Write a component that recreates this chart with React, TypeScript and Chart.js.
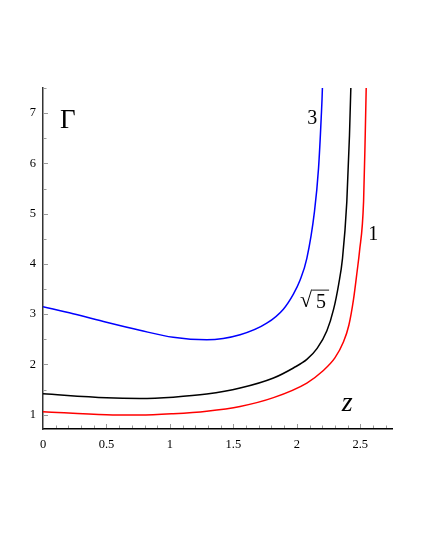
import React, { useEffect, useRef } from "react";
import { Chart, registerables } from "chart.js";

Chart.register(...registerables);

// curve "1" (red)
const zRed = [0, 0.5, 0.763, 1.026, 1.29, 1.553, 1.816, 2.079, 2.2, 2.3, 2.368, 2.41, 2.447, 2.475, 2.494, 2.526, 2.539, 2.547, 2.555];
const gammaRed = [1.06, 1.0, 0.994, 1.02, 1.07, 1.165, 1.34, 1.63, 1.86, 2.13, 2.45, 2.78, 3.3, 3.85, 4.25, 5.24, 6.56, 7.53, 8.6];

// curve "sqrt 5" (black)
const zBlack = [0, 0.5, 0.763, 1.026, 1.29, 1.553, 1.816, 1.973, 2.079, 2.16, 2.237, 2.29, 2.33, 2.36, 2.394, 2.415, 2.426, 2.435];
const gammaBlack = [1.417, 1.338, 1.325, 1.35, 1.41, 1.53, 1.73, 1.93, 2.1, 2.32, 2.67, 3.1, 3.6, 4.11, 5.24, 6.56, 7.53, 8.6];

// curve "3" (blue)
const zBlue = [0, 0.237, 0.5, 0.763, 1.026, 1.29, 1.553, 1.763, 1.894, 1.973, 2.026, 2.079, 2.139, 2.171, 2.192, 2.202, 2.21];
const gammaBlue = [3.15, 3.01, 2.84, 2.68, 2.54, 2.49, 2.59, 2.82, 3.1, 3.4, 3.68, 4.11, 5.04, 5.9, 6.9, 7.53, 8.5];

const xTicks = [0, 0.5, 1, 1.5, 2, 2.5];
const yTicks = [1, 2, 3, 4, 5, 6, 7];

// text placed on the plot, anchored in data units
const curveLabels = [
  { text: "3", z: 2.121, g: 6.885 },
  { text: "1", z: 2.602, g: 4.58 },
];

const SERIF = '"Liberation Serif", "DejaVu Serif", serif';

const toPoints = (xs: number[], ys: number[]) => xs.map((x, i) => ({ x, y: ys[i] }));

const overlay = {
  id: "overlay",
  afterDraw(chart: any) {
    const { ctx, chartArea } = chart;
    const x = chart.scales.x;
    const y = chart.scales.y;
    ctx.save();

    // inward tick marks
    ctx.strokeStyle = "#9a9a9a";
    ctx.lineWidth = 1;
    for (let i = 1; i <= 27; i++) {
      const px = Math.round(x.getPixelForValue(i / 10)) + 0.5;
      const len = i % 5 === 0 ? 4 : 2.5;
      ctx.beginPath();
      ctx.moveTo(px, chartArea.bottom - 1);
      ctx.lineTo(px, chartArea.bottom - 1 - len);
      ctx.stroke();
    }
    for (let i = 2; i <= 15; i++) {
      const v = i / 2;
      const py = Math.round(y.getPixelForValue(v)) + 0.5;
      const len = i % 2 === 0 ? 4 : 2.5;
      ctx.beginPath();
      ctx.moveTo(chartArea.left + 1, py);
      ctx.lineTo(chartArea.left + 1 + len, py);
      ctx.stroke();
    }

    ctx.fillStyle = "#000";
    ctx.textAlign = "center";
    ctx.textBaseline = "middle";

    // curve labels
    ctx.font = `20px ${SERIF}`;
    curveLabels.forEach((l) => {
      ctx.fillText(l.text, x.getPixelForValue(l.z), y.getPixelForValue(l.g));
    });

    // sqrt(5) label
    const sx = x.getPixelForValue(2.144);
    const sy = y.getPixelForValue(3.27);
    ctx.textAlign = "left";
    ctx.font = `22px ${SERIF}`;
    ctx.fillText("\u221A", sx - 15, sy + 1);
    ctx.font = `20px ${SERIF}`;
    ctx.fillText("5", sx + 1, sy + 2);
    ctx.strokeStyle = "#000";
    ctx.lineWidth = 0.9;
    ctx.beginPath();
    ctx.moveTo(sx - 3, sy - 10.5);
    ctx.lineTo(sx + 14, sy - 10.5);
    ctx.stroke();

    // axis names
    ctx.textAlign = "center";
    ctx.font = `27px ${SERIF}`;
    ctx.fillText("\u0393", x.getPixelForValue(0.195), y.getPixelForValue(6.84));
    ctx.font = `italic 28px ${SERIF}`;
    ctx.fillText("z", x.getPixelForValue(2.397), y.getPixelForValue(1.22));

    ctx.restore();
  },
};

export default function App() {
  const canvasRef = useRef<HTMLCanvasElement | null>(null);

  useEffect(() => {
    if (!canvasRef.current) return;
    const lineStyle = { pointRadius: 0, borderWidth: 1.5, fill: false, cubicInterpolationMode: "monotone" as const };

    const chart = new Chart(canvasRef.current, {
      type: "line",
      data: {
        datasets: [
          { ...lineStyle, label: "1", data: toPoints(zRed, gammaRed), borderColor: "#ff0000" },
          { ...lineStyle, label: "sqrt5", data: toPoints(zBlack, gammaBlack), borderColor: "#000000" },
          { ...lineStyle, label: "3", data: toPoints(zBlue, gammaBlue), borderColor: "#0000ff" },
        ],
      },
      options: {
        animation: false,
        responsive: true,
        maintainAspectRatio: false,
        layout: { padding: { left: 0, right: 33, top: 88, bottom: 99 } },
        plugins: { legend: { display: false }, tooltip: { enabled: false } },
        scales: {
          x: {
            type: "linear",
            min: 0,
            max: 2.75,
            afterBuildTicks: (s: any) => {
              s.ticks = xTicks.map((v) => ({ value: v }));
            },
            afterFit: (s: any) => {
              s.height = 22;
            },
            ticks: {
              color: "#000",
              font: { family: SERIF, size: 12.5 },
              padding: 8,
              maxRotation: 0,
              callback: (v: any) => String(v),
            },
            grid: { display: false, drawTicks: false },
            border: { display: true, color: "#000", width: 1.5 },
          },
          y: {
            type: "linear",
            min: 0.716,
            max: 7.5,
            afterBuildTicks: (s: any) => {
              s.ticks = yTicks.map((v) => ({ value: v }));
            },
            afterFit: (s: any) => {
              s.width = 43;
            },
            ticks: {
              color: "#000",
              font: { family: SERIF, size: 12.5 },
              padding: 7,
              callback: (v: any) => String(v),
            },
            grid: { display: false, drawTicks: false },
            border: { display: true, color: "#333", width: 1.5 },
          },
        },
      },
      plugins: [overlay],
    });

    return () => chart.destroy();
  }, []);

  return (
    <div style={{ position: "fixed", left: 0, top: 0, width: 425, height: 550, background: "#fff" }}>
      <canvas ref={canvasRef}></canvas>
    </div>
  );
}
